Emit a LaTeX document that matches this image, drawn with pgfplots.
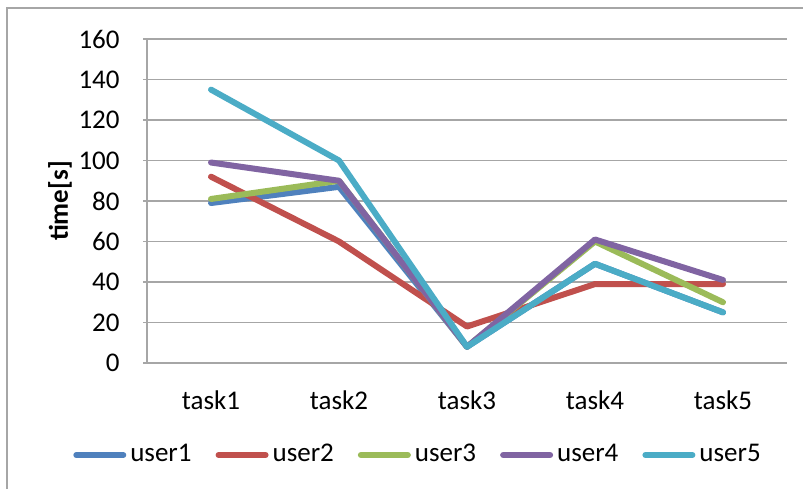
\documentclass[border=0pt]{standalone}
\usepackage{fontspec}
\setmainfont{Carlito}
\usepackage{pgfplots}
\pgfplotsset{compat=1.18}
\definecolor{c1}{HTML}{4F81BD}
\definecolor{c2}{HTML}{C0504D}
\definecolor{c3}{HTML}{9BBB59}
\definecolor{c4}{HTML}{8064A2}
\definecolor{c5}{HTML}{4BACC6}
\definecolor{gridc}{HTML}{A6A6A6}
\begin{document}
\fontsize{13.5}{16}\selectfont
\begin{tikzpicture}
\useasboundingbox (0,0) rectangle (401.5pt,244.5pt);
\draw[gridc, line width=0.8pt] (3.5pt,0) -- (3.5pt,240.5pt) -- (401.5pt,240.5pt);
\begin{axis}[
  at={(73.5pt,63pt)}, anchor=south west,
  scale only axis, width=320pt, height=162pt,
  xmin=0.5, xmax=5.5, ymin=0, ymax=160,
  xtick={1,2,3,4,5},
  xticklabels={task1,task2,task3,task4,task5},
  ytick={0,20,...,160},
  /pgf/number format/assume math mode=true,
  ymajorgrids, grid style={gridc, line width=0.9pt},
  axis line style={gridc, line width=0.9pt},
  axis x line*=bottom, axis y line*=left,
  x axis line style={-}, y axis line style={-},
  xtick style={draw=none},
  ytick style={gridc, line width=0.9pt},
  tick align=outside, major tick length=2pt,
  yticklabel style={xshift=-7pt, font=\fontsize{13.5}{16}\selectfont},
  xticklabel style={yshift=-7pt, font=\fontsize{13.5}{16}\selectfont},
  ylabel={\textbf{time[s]}},
  ylabel style={at={(axis description cs:-0.136,0.5)}, anchor=center, font=\fontsize{13.5}{16}\selectfont},
  legend style={at={(0.425,-0.284)}, anchor=center, draw=none, fill=none,
    legend columns=5, font=\fontsize{13.5}{16}\selectfont,
    /tikz/every odd column/.style={column sep=0pt},
    /tikz/every even column/.style={column sep=10pt}},
  legend image code/.code={\draw[#1, line width=3pt, line cap=round] (0pt,0pt) -- (23.5pt,0pt);},
  every axis plot/.append style={line width=3pt, line cap=round, line join=round},
]
\addplot[c1] coordinates {(1,79) (2,87) (3,8) (4,49) (5,25)};
\addplot[c2] coordinates {(1,92) (2,60) (3,18) (4,39) (5,39)};
\addplot[c3] coordinates {(1,81) (2,90) (3,8) (4,60) (5,30)};
\addplot[c4] coordinates {(1,99) (2,90) (3,8) (4,61) (5,41)};
\addplot[c5] coordinates {(1,135) (2,100) (3,8) (4,49) (5,25)};
\legend{user1,user2,user3,user4,user5}
\end{axis}
\end{tikzpicture}
\end{document}
